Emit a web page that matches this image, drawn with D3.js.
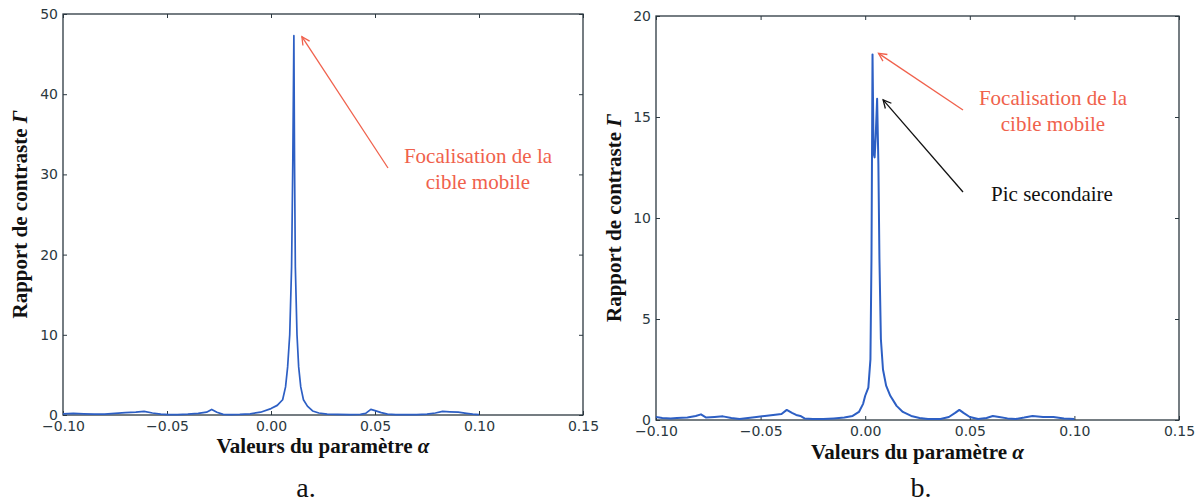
<!DOCTYPE html>
<html>
<head>
<meta charset="utf-8">
<script src="https://cdn.jsdelivr.net/npm/d3@7"></script>
<style>
  body { margin: 0; background: #fff; }
  .tick text { font-family: "DejaVu Sans", sans-serif; font-size: 14px; fill: #2b3840; }
  .tick line { stroke: #2b3840; }
  .axis-title { font-family: "Liberation Serif", "Times New Roman", serif; font-weight: bold; font-size: 21px; fill: #111; }
  .note { font-family: "Liberation Serif", "Times New Roman", serif; font-size: 21px; }
  .panel-tag { font-family: "Liberation Serif", "Times New Roman", serif; font-size: 28px; fill: #111; }
</style>
</head>
<body>
<div id="container"></div>
<script>
// tick labels
var xTicks = [-0.10, -0.05, 0.00, 0.05, 0.10, 0.15];
var yTicksA = [0, 10, 20, 30, 40, 50];
var yTicksB = [0, 5, 10, 15, 20];

// panel a : contrast ratio vs alpha
var alphaA = [-0.100, -0.095, -0.090, -0.085, -0.080, -0.075, -0.070, -0.065, -0.061, -0.057, -0.053,
  -0.049, -0.045, -0.040, -0.035, -0.031, -0.0285, -0.026, -0.023, -0.019, -0.015, -0.010, -0.005,
  0.000, 0.003, 0.0056, 0.007, 0.008, 0.009, 0.0099, 0.0105, 0.011, 0.0113, 0.0117, 0.0125,
  0.0133, 0.0143, 0.0156, 0.0175, 0.020, 0.023, 0.027, 0.032, 0.038, 0.043, 0.0455,
  0.048, 0.050, 0.053, 0.056, 0.060, 0.065, 0.070, 0.075, 0.079, 0.0825, 0.086, 0.090, 0.094,
  0.097, 0.100];
var gammaA = [0.15, 0.2, 0.15, 0.1, 0.1, 0.2, 0.3, 0.35, 0.45, 0.25, 0.1,
  0.05, 0.05, 0.1, 0.2, 0.35, 0.7, 0.35, 0.08, 0.05, 0.08, 0.15, 0.35,
  0.8, 1.2, 1.9, 3.5, 6, 10, 18.5, 32, 47.3, 32, 18.5, 10,
  6, 3.5, 1.9, 1.1, 0.5, 0.25, 0.12, 0.08, 0.05, 0.08, 0.2,
  0.7, 0.55, 0.3, 0.1, 0.05, 0.05, 0.05, 0.1, 0.25, 0.45, 0.4, 0.35, 0.2,
  0.1, 0.05];

// panel b : contrast ratio vs alpha, with secondary peak
var alphaB = [-0.100, -0.097, -0.093, -0.090, -0.085, -0.081, -0.0785, -0.076, -0.072, -0.068,
  -0.064, -0.060, -0.056, -0.052, -0.048, -0.044, -0.040, -0.0375, -0.035, -0.033, -0.031, -0.029,
  -0.025, -0.020, -0.015, -0.010, -0.006, -0.003, -0.001, 0.000, 0.0015, 0.0025, 0.003, 0.0035,
  0.004, 0.0045, 0.005, 0.0057, 0.0063, 0.0068, 0.0075, 0.0085, 0.010, 0.012, 0.015, 0.018, 0.022,
  0.026, 0.030, 0.036, 0.040, 0.043, 0.045, 0.047, 0.050, 0.054, 0.058, 0.061, 0.064, 0.068,
  0.072, 0.076, 0.080, 0.085, 0.090, 0.095, 0.100];
var gammaB = [0.15, 0.1, 0.08, 0.1, 0.12, 0.2, 0.28, 0.12, 0.15, 0.18,
  0.1, 0.05, 0.1, 0.15, 0.2, 0.25, 0.3, 0.5, 0.35, 0.25, 0.2, 0.08,
  0.05, 0.05, 0.08, 0.12, 0.2, 0.4, 0.8, 1.2, 1.6, 3, 8, 18.1,
  13.2, 13, 14, 15.9, 12.7, 8, 4, 2.5, 1.7, 1.2, 0.7, 0.4, 0.2,
  0.1, 0.05, 0.05, 0.15, 0.35, 0.5, 0.35, 0.15, 0.05, 0.1, 0.2, 0.15, 0.08,
  0.05, 0.12, 0.2, 0.15, 0.15, 0.08, 0.05];

var svg = d3.select("#container")
  .append("svg")
    .attr("width", 1198)
    .attr("height", 502);

var defs = svg.append("defs");
[["arrowRed", "#f0614c"], ["arrowBlack", "#111"]].forEach(function(m) {
  defs.append("marker")
      .attr("id", m[0])
      .attr("viewBox", "-10 -6 12 12")
      .attr("refX", 0).attr("refY", 0)
      .attr("markerWidth", 12).attr("markerHeight", 12)
      .attr("markerUnits", "userSpaceOnUse")
      .attr("orient", "auto")
    .append("path")
      .attr("d", "M-8,-4 L0,0 L-8,4")
      .attr("fill", "none")
      .attr("stroke", m[1])
      .attr("stroke-width", 1.3);
});

function drawPanel(p) {
  var width = p.right - p.left,
      height = p.bottom - p.top;

  var g = svg.append("g")
      .attr("transform", "translate(" + p.left + "," + p.top + ")");

  var x = d3.scaleLinear().domain([-0.10, 0.15]).range([0, width]);
  var y = d3.scaleLinear().domain([0, p.yMax]).range([height, 0]);

  // inward ticks on all four sides, like the old matplotlib style
  g.append("g")
      .attr("transform", "translate(0," + height + ")")
      .call(d3.axisBottom(x).tickValues(xTicks).tickFormat(d3.format(".2f"))
        .tickSizeInner(-4).tickSizeOuter(0).tickPadding(6))
      .call(function(s) { s.select(".domain").remove(); });
  g.append("g")
      .call(d3.axisTop(x).tickValues(xTicks).tickFormat("")
        .tickSizeInner(-4).tickSizeOuter(0))
      .call(function(s) { s.select(".domain").remove(); });
  g.append("g")
      .call(d3.axisLeft(y).tickValues(p.yTicks).tickFormat(d3.format("d"))
        .tickSizeInner(-4).tickSizeOuter(0).tickPadding(5))
      .call(function(s) { s.select(".domain").remove(); });
  g.append("g")
      .attr("transform", "translate(" + width + ",0)")
      .call(d3.axisRight(y).tickValues(p.yTicks).tickFormat("")
        .tickSizeInner(-4).tickSizeOuter(0))
      .call(function(s) { s.select(".domain").remove(); });

  g.append("rect")
      .attr("width", width)
      .attr("height", height)
      .attr("fill", "none")
      .attr("stroke", "#2b3840")
      .attr("stroke-width", 1.3);

  var line = d3.line()
      .x(function(d) { return x(d[0]); })
      .y(function(d) { return y(d[1]); });

  g.append("path")
      .datum(d3.zip(p.alpha, p.gamma))
      .attr("fill", "none")
      .attr("stroke", "#2d5fc4")
      .attr("stroke-width", p.lineWidth)
      .attr("stroke-linejoin", "round")
      .attr("d", line);

  // annotations (arrow points at a data value, tail in pixels)
  p.notes.forEach(function(n) {
    g.append("line")
        .attr("x1", n.tail[0] - p.left)
        .attr("y1", n.tail[1] - p.top)
        .attr("x2", x(n.at[0]) + n.off[0])
        .attr("y2", y(n.at[1]) + n.off[1])
        .attr("stroke", n.color)
        .attr("stroke-width", 1.3)
        .attr("marker-end", "url(#" + n.marker + ")");
    var t = g.append("text")
        .attr("class", "note")
        .attr("text-anchor", "middle")
        .attr("fill", n.color);
    n.lines.forEach(function(s, i) {
      t.append("tspan")
          .attr("x", n.textPos[0] - p.left)
          .attr("y", n.textPos[1] - p.top + i * 26)
          .text(s);
    });
  });

  // axis titles
  var xt = g.append("text")
      .attr("class", "axis-title")
      .attr("text-anchor", "middle")
      .attr("x", width / 2)
      .attr("y", p.xTitleY - p.top);
  xt.append("tspan").text("Valeurs du paramètre ");
  xt.append("tspan").attr("font-style", "italic").text("α");

  var yt = g.append("text")
      .attr("class", "axis-title")
      .attr("text-anchor", "middle")
      .attr("transform", "translate(" + (p.yTitleX - p.left) + "," + (height / 2) + ") rotate(-90)");
  yt.append("tspan").text("Rapport de contraste ");
  yt.append("tspan").attr("font-style", "italic").text("Γ");

  svg.append("text")
      .attr("class", "panel-tag")
      .attr("text-anchor", "middle")
      .attr("x", p.tagX)
      .attr("y", 497)
      .text(p.tag);
}

drawPanel({
  left: 63, right: 583, top: 14, bottom: 415,
  yMax: 50, yTicks: yTicksA, alpha: alphaA, gamma: gammaA, lineWidth: 1.7,
  xTitleY: 453, yTitleX: 27, tag: "a.", tagX: 306,
  notes: [
    { color: "#f0614c", marker: "arrowRed", at: [0.011, 47.3], off: [8, 1],
      tail: [388, 168], textPos: [478, 163], lines: ["Focalisation de la", "cible mobile"] }
  ]
});

drawPanel({
  left: 656, right: 1179, top: 16, bottom: 420,
  yMax: 20, yTicks: yTicksB, alpha: alphaB, gamma: gammaB, lineWidth: 2,
  xTitleY: 459, yTitleX: 621, tag: "b.", tagX: 921,
  notes: [
    { color: "#f0614c", marker: "arrowRed", at: [0.0035, 18.1], off: [6, -1],
      tail: [963, 110], textPos: [1053, 105], lines: ["Focalisation de la", "cible mobile"] },
    { color: "#111", marker: "arrowBlack", at: [0.0057, 15.9], off: [6, 1],
      tail: [963, 192], textPos: [1052, 201], lines: ["Pic secondaire"] }
  ]
});
</script>
</body>
</html>
